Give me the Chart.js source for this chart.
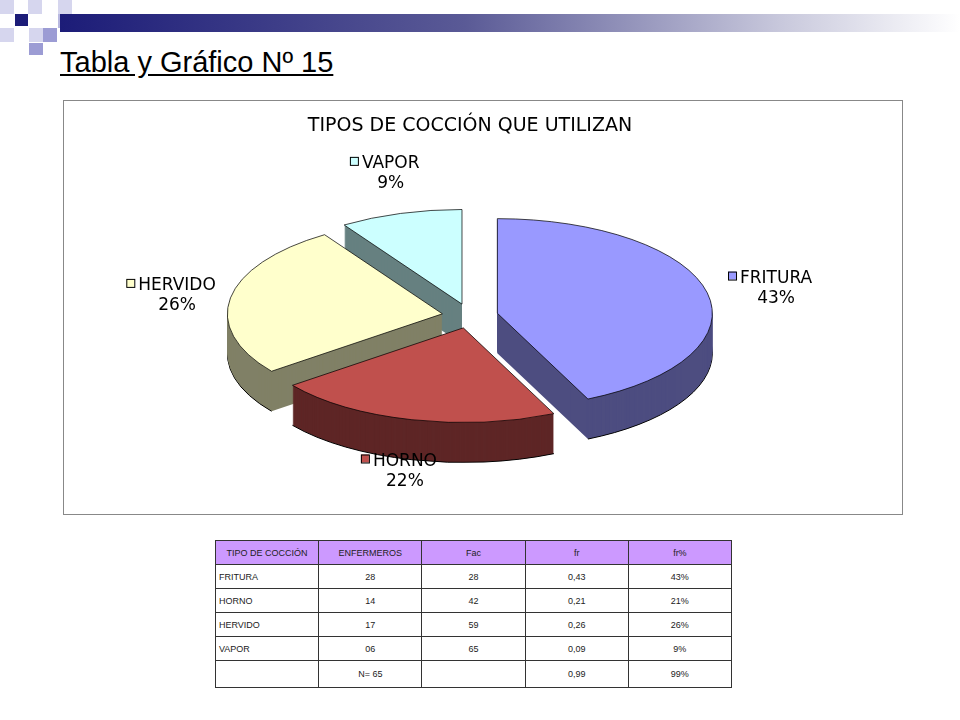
<!DOCTYPE html>
<html>
<head>
<meta charset="utf-8">
<script src="https://cdn.jsdelivr.net/npm/chart.js@4"></script>
<style>
  body { margin: 0; width: 960px; height: 720px; background: #fff; position: relative; font-family: "Liberation Sans", Arial, sans-serif; overflow: hidden; }
  .sq { position: absolute; }
  #bar { position: absolute; left: 60px; top: 14px; width: 900px; height: 18px; background: linear-gradient(to right, #1c1c78, #5a5a96 45%, #c8c8dc 80%, #ffffff); }
  h1 { position: absolute; left: 60px; top: 46px; margin: 0; font-size: 29px; font-weight: normal; text-decoration: underline; color: #000; }
  #box { position: absolute; left: 63px; top: 100px; width: 838px; height: 413px; border: 1px solid #888; }
  table { position: absolute; left: 215px; top: 540px; width: 517px; border-collapse: collapse; font-size: 9px; color: #222; table-layout: fixed; }
  td, th { border: 1px solid #333; height: 23px; text-align: center; padding: 0; width: 20%; }
  th { background: #cc99ff; font-weight: normal; }
  td.l { text-align: left; padding-left: 3px; }
  tr.last td { height: 26px; }
</style>
</head>
<body>
<div class="sq" style="left:0;top:0;width:14px;height:14px;background:#d6d6ee"></div>
<div class="sq" style="left:28px;top:0;width:14px;height:14px;background:#d6d6ee"></div>
<div class="sq" style="left:58px;top:0;width:14px;height:14px;background:#d6d6ee"></div>
<div class="sq" style="left:15px;top:14px;width:13px;height:12px;background:#1c1c78"></div>
<div class="sq" style="left:58px;top:14px;width:14px;height:14px;background:#b8b8e0"></div>
<div class="sq" style="left:0;top:28px;width:14px;height:14px;background:#d6d6ee"></div>
<div class="sq" style="left:29px;top:28px;width:14px;height:14px;background:#d6d6ee"></div>
<div class="sq" style="left:43px;top:28px;width:14px;height:14px;background:#9c9cd4"></div>
<div class="sq" style="left:29px;top:43px;width:14px;height:12px;background:#9c9cd4"></div>
<div id="bar"></div>
<h1>Tabla y Gráfico Nº 15</h1>
<div id="box"><canvas id="pie" width="838" height="413"></canvas></div>
<table id="tbl"></table>
<script>
const categories = ["FRITURA", "HORNO", "HERVIDO", "VAPOR"];
const enfermeros = [28, 14, 17, 6];
const enfermerosTxt = ["28", "14", "17", "06"];
const fac = [28, 42, 59, 65];
const fr = ["0,43", "0,21", "0,26", "0,09"];
const frPct = ["43%", "21%", "26%", "9%"];
const pieLabels = ["43%", "22%", "26%", "9%"];
const topColors = ["#9999ff", "#c0504d", "#ffffcc", "#ccffff"];
const sideColors = ["#4d4d80", "#5e2626", "#808066", "#668080"];

// tabla
const tbl = document.getElementById("tbl");
let html = "<tr><th>TIPO DE COCCIÓN</th><th>ENFERMEROS</th><th>Fac</th><th>fr</th><th>fr%</th></tr>";
categories.forEach((c, i) => {
  html += `<tr><td class="l">${c}</td><td>${enfermerosTxt[i]}</td><td>${fac[i]}</td><td>${fr[i]}</td><td>${frPct[i]}</td></tr>`;
});
html += '<tr class="last"><td></td><td>N= 65</td><td></td><td>0,99</td><td>99%</td></tr>';
tbl.innerHTML = html;

const SY = 0.44, DEPTH = 40, EXPLODE = 28;

function ellipse(ctx, cx, cy) {
  ctx.translate(cx, cy);
  ctx.scale(1, SY);
  ctx.translate(-cx, -cy);
}

const pie3d = {
  id: "pie3d",
  beforeDatasetsDraw(chart) {
    const ctx = chart.ctx;
    const arcs = chart.getDatasetMeta(0).data;
    const cx = arcs[0].x, cy = arcs[0].y;
    chart._saved = arcs.map(a => ({ x: a.x, y: a.y }));
    arcs.forEach(a => {
      const mid = (a.startAngle + a.endAngle) / 2;
      a.x += Math.cos(mid) * EXPLODE;
      a.y += Math.sin(mid) * EXPLODE;
    });
    const order = arcs.map((a, i) => i).sort((i, j) => {
      const mi = (arcs[i].startAngle + arcs[i].endAngle) / 2;
      const mj = (arcs[j].startAngle + arcs[j].endAngle) / 2;
      return Math.sin(mi) - Math.sin(mj);
    });
    for (let k = DEPTH; k >= 1; k--) {
      order.forEach(i => {
        const a = arcs[i];
        ctx.save();
        ctx.translate(0, k);
        ellipse(ctx, cx, cy);
        ctx.beginPath();
        ctx.moveTo(a.x, a.y);
        ctx.arc(a.x, a.y, a.outerRadius, a.startAngle, a.endAngle);
        ctx.closePath();
        ctx.fillStyle = sideColors[i];
        ctx.fill();
        if (k === DEPTH) {
          ctx.beginPath();
          ctx.arc(a.x, a.y, a.outerRadius, a.startAngle, a.endAngle);
          ctx.restore();
          ctx.strokeStyle = "#000";
          ctx.lineWidth = 1;
          ctx.stroke();
          return;
        }
        ctx.restore();
      });
    }
    ctx.save();
    ellipse(ctx, cx, cy);
  },
  afterDatasetsDraw(chart) {
    const ctx = chart.ctx;
    ctx.restore();
    const arcs = chart.getDatasetMeta(0).data;
    arcs.forEach((a, i) => { a.x = chart._saved[i].x; a.y = chart._saved[i].y; });
    const cx = arcs[0].x, cy = arcs[0].y;
    ctx.save();
    ctx.font = "17px 'DejaVu Sans', sans-serif";
    ctx.fillStyle = "#000";
    ctx.textAlign = "center";
    ctx.textBaseline = "alphabetic";
    arcs.forEach((a, i) => {
      const mid = (a.startAngle + a.endAngle) / 2;
      const r = a.outerRadius * 1.42;
      const x = cx + Math.cos(mid) * r;
      let y = cy + Math.sin(mid) * r * SY * 1.15;
      if (Math.sin(mid) > 0.5) y = cy + a.outerRadius * SY + DEPTH + 15;
      const name = categories[i];
      const w = ctx.measureText(name).width;
      ctx.fillText(name, x + 8, y);
      ctx.fillText(pieLabels[i], x + 8, y + 20);
      const bx = x + 8 - w / 2 - 12;
      ctx.fillStyle = topColors[i];
      ctx.fillRect(bx, y - 11, 8, 8);
      ctx.strokeStyle = "#000";
      ctx.lineWidth = 1;
      ctx.strokeRect(bx + 0.5, y - 10.5, 8, 8);
      ctx.fillStyle = "#000";
    });
    ctx.restore();
  }
};

new Chart(document.getElementById("pie"), {
  type: "pie",
  data: {
    labels: categories,
    datasets: [{
      data: enfermeros,
      backgroundColor: topColors,
      borderColor: "#000",
      borderWidth: 1,
      radius: 215
    }]
  },
  options: {
    responsive: false,
    animation: false,
    events: [],
    layout: { padding: { top: 0, right: 26, bottom: 20 } },
    plugins: {
      legend: { display: false },
      tooltip: { enabled: false },
      title: {
        display: true,
        text: "TIPOS DE COCCIÓN QUE UTILIZAN",
        color: "#000",
        font: { family: "'DejaVu Sans', sans-serif", size: 19, weight: "normal" },
        padding: { top: 14, bottom: 0 }
      }
    }
  },
  plugins: [pie3d]
});
</script>
</body>
</html>
